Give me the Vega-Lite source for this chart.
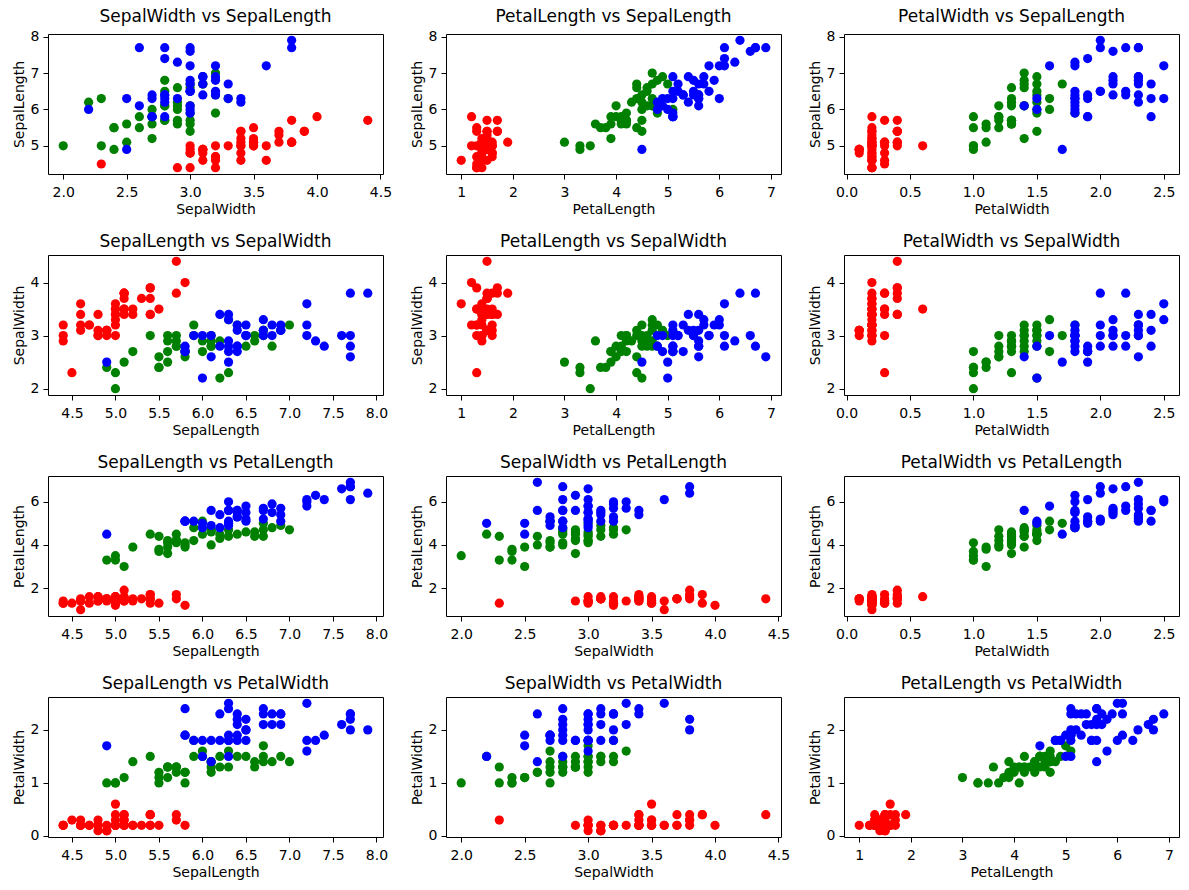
{
"$schema": "https://vega.github.io/schema/vega-lite/v6.json",
"background": "white",
"padding": {"left": 11, "top": 7, "right": 5, "bottom": 5},
"datasets": {"iris": [
{"SepalLength":5.1,"SepalWidth":3.5,"PetalLength":1.4,"PetalWidth":0.2,"Species":"setosa"},
{"SepalLength":4.9,"SepalWidth":3.0,"PetalLength":1.4,"PetalWidth":0.2,"Species":"setosa"},
{"SepalLength":4.7,"SepalWidth":3.2,"PetalLength":1.3,"PetalWidth":0.2,"Species":"setosa"},
{"SepalLength":4.6,"SepalWidth":3.1,"PetalLength":1.5,"PetalWidth":0.2,"Species":"setosa"},
{"SepalLength":5.0,"SepalWidth":3.6,"PetalLength":1.4,"PetalWidth":0.2,"Species":"setosa"},
{"SepalLength":5.4,"SepalWidth":3.9,"PetalLength":1.7,"PetalWidth":0.4,"Species":"setosa"},
{"SepalLength":4.6,"SepalWidth":3.4,"PetalLength":1.4,"PetalWidth":0.3,"Species":"setosa"},
{"SepalLength":5.0,"SepalWidth":3.4,"PetalLength":1.5,"PetalWidth":0.2,"Species":"setosa"},
{"SepalLength":4.4,"SepalWidth":2.9,"PetalLength":1.4,"PetalWidth":0.2,"Species":"setosa"},
{"SepalLength":4.9,"SepalWidth":3.1,"PetalLength":1.5,"PetalWidth":0.1,"Species":"setosa"},
{"SepalLength":5.4,"SepalWidth":3.7,"PetalLength":1.5,"PetalWidth":0.2,"Species":"setosa"},
{"SepalLength":4.8,"SepalWidth":3.4,"PetalLength":1.6,"PetalWidth":0.2,"Species":"setosa"},
{"SepalLength":4.8,"SepalWidth":3.0,"PetalLength":1.4,"PetalWidth":0.1,"Species":"setosa"},
{"SepalLength":5.8,"SepalWidth":4.0,"PetalLength":1.2,"PetalWidth":0.2,"Species":"setosa"},
{"SepalLength":5.7,"SepalWidth":4.4,"PetalLength":1.5,"PetalWidth":0.4,"Species":"setosa"},
{"SepalLength":5.4,"SepalWidth":3.9,"PetalLength":1.3,"PetalWidth":0.4,"Species":"setosa"},
{"SepalLength":5.1,"SepalWidth":3.5,"PetalLength":1.4,"PetalWidth":0.3,"Species":"setosa"},
{"SepalLength":5.7,"SepalWidth":3.8,"PetalLength":1.7,"PetalWidth":0.3,"Species":"setosa"},
{"SepalLength":5.1,"SepalWidth":3.8,"PetalLength":1.5,"PetalWidth":0.3,"Species":"setosa"},
{"SepalLength":5.4,"SepalWidth":3.4,"PetalLength":1.7,"PetalWidth":0.2,"Species":"setosa"},
{"SepalLength":5.1,"SepalWidth":3.7,"PetalLength":1.5,"PetalWidth":0.4,"Species":"setosa"},
{"SepalLength":4.6,"SepalWidth":3.6,"PetalLength":1.0,"PetalWidth":0.2,"Species":"setosa"},
{"SepalLength":5.0,"SepalWidth":3.0,"PetalLength":1.6,"PetalWidth":0.2,"Species":"setosa"},
{"SepalLength":5.0,"SepalWidth":3.4,"PetalLength":1.6,"PetalWidth":0.4,"Species":"setosa"},
{"SepalLength":5.2,"SepalWidth":3.5,"PetalLength":1.5,"PetalWidth":0.2,"Species":"setosa"},
{"SepalLength":5.2,"SepalWidth":3.4,"PetalLength":1.4,"PetalWidth":0.2,"Species":"setosa"},
{"SepalLength":4.7,"SepalWidth":3.2,"PetalLength":1.6,"PetalWidth":0.2,"Species":"setosa"},
{"SepalLength":4.8,"SepalWidth":3.1,"PetalLength":1.6,"PetalWidth":0.2,"Species":"setosa"},
{"SepalLength":5.4,"SepalWidth":3.4,"PetalLength":1.5,"PetalWidth":0.4,"Species":"setosa"},
{"SepalLength":4.9,"SepalWidth":3.1,"PetalLength":1.5,"PetalWidth":0.1,"Species":"setosa"},
{"SepalLength":5.0,"SepalWidth":3.2,"PetalLength":1.2,"PetalWidth":0.2,"Species":"setosa"},
{"SepalLength":5.5,"SepalWidth":3.5,"PetalLength":1.3,"PetalWidth":0.2,"Species":"setosa"},
{"SepalLength":4.9,"SepalWidth":3.1,"PetalLength":1.5,"PetalWidth":0.1,"Species":"setosa"},
{"SepalLength":4.4,"SepalWidth":3.0,"PetalLength":1.3,"PetalWidth":0.2,"Species":"setosa"},
{"SepalLength":5.1,"SepalWidth":3.4,"PetalLength":1.5,"PetalWidth":0.2,"Species":"setosa"},
{"SepalLength":5.0,"SepalWidth":3.5,"PetalLength":1.3,"PetalWidth":0.3,"Species":"setosa"},
{"SepalLength":4.5,"SepalWidth":2.3,"PetalLength":1.3,"PetalWidth":0.3,"Species":"setosa"},
{"SepalLength":4.4,"SepalWidth":3.2,"PetalLength":1.3,"PetalWidth":0.2,"Species":"setosa"},
{"SepalLength":5.0,"SepalWidth":3.5,"PetalLength":1.6,"PetalWidth":0.6,"Species":"setosa"},
{"SepalLength":5.1,"SepalWidth":3.8,"PetalLength":1.9,"PetalWidth":0.4,"Species":"setosa"},
{"SepalLength":4.8,"SepalWidth":3.0,"PetalLength":1.4,"PetalWidth":0.3,"Species":"setosa"},
{"SepalLength":5.1,"SepalWidth":3.8,"PetalLength":1.6,"PetalWidth":0.2,"Species":"setosa"},
{"SepalLength":4.6,"SepalWidth":3.2,"PetalLength":1.4,"PetalWidth":0.2,"Species":"setosa"},
{"SepalLength":5.3,"SepalWidth":3.7,"PetalLength":1.5,"PetalWidth":0.2,"Species":"setosa"},
{"SepalLength":5.0,"SepalWidth":3.3,"PetalLength":1.4,"PetalWidth":0.2,"Species":"setosa"},
{"SepalLength":7.0,"SepalWidth":3.2,"PetalLength":4.7,"PetalWidth":1.4,"Species":"versicolor"},
{"SepalLength":6.4,"SepalWidth":3.2,"PetalLength":4.5,"PetalWidth":1.5,"Species":"versicolor"},
{"SepalLength":6.9,"SepalWidth":3.1,"PetalLength":4.9,"PetalWidth":1.5,"Species":"versicolor"},
{"SepalLength":6.5,"SepalWidth":2.8,"PetalLength":4.6,"PetalWidth":1.5,"Species":"versicolor"},
{"SepalLength":5.7,"SepalWidth":2.8,"PetalLength":4.5,"PetalWidth":1.3,"Species":"versicolor"},
{"SepalLength":6.3,"SepalWidth":3.3,"PetalLength":4.7,"PetalWidth":1.6,"Species":"versicolor"},
{"SepalLength":4.9,"SepalWidth":2.4,"PetalLength":3.3,"PetalWidth":1.0,"Species":"versicolor"},
{"SepalLength":6.6,"SepalWidth":2.9,"PetalLength":4.6,"PetalWidth":1.3,"Species":"versicolor"},
{"SepalLength":5.2,"SepalWidth":2.7,"PetalLength":3.9,"PetalWidth":1.4,"Species":"versicolor"},
{"SepalLength":5.0,"SepalWidth":2.0,"PetalLength":3.5,"PetalWidth":1.0,"Species":"versicolor"},
{"SepalLength":5.9,"SepalWidth":3.0,"PetalLength":4.2,"PetalWidth":1.5,"Species":"versicolor"},
{"SepalLength":6.1,"SepalWidth":2.9,"PetalLength":4.7,"PetalWidth":1.4,"Species":"versicolor"},
{"SepalLength":5.6,"SepalWidth":2.9,"PetalLength":3.6,"PetalWidth":1.3,"Species":"versicolor"},
{"SepalLength":6.7,"SepalWidth":3.1,"PetalLength":4.4,"PetalWidth":1.4,"Species":"versicolor"},
{"SepalLength":5.8,"SepalWidth":2.7,"PetalLength":4.1,"PetalWidth":1.0,"Species":"versicolor"},
{"SepalLength":6.2,"SepalWidth":2.2,"PetalLength":4.5,"PetalWidth":1.5,"Species":"versicolor"},
{"SepalLength":5.6,"SepalWidth":2.5,"PetalLength":3.9,"PetalWidth":1.1,"Species":"versicolor"},
{"SepalLength":5.9,"SepalWidth":3.2,"PetalLength":4.8,"PetalWidth":1.8,"Species":"versicolor"},
{"SepalLength":6.1,"SepalWidth":2.8,"PetalLength":4.0,"PetalWidth":1.3,"Species":"versicolor"},
{"SepalLength":6.1,"SepalWidth":2.8,"PetalLength":4.7,"PetalWidth":1.2,"Species":"versicolor"},
{"SepalLength":6.6,"SepalWidth":3.0,"PetalLength":4.4,"PetalWidth":1.4,"Species":"versicolor"},
{"SepalLength":6.8,"SepalWidth":2.8,"PetalLength":4.8,"PetalWidth":1.4,"Species":"versicolor"},
{"SepalLength":6.7,"SepalWidth":3.0,"PetalLength":5.0,"PetalWidth":1.7,"Species":"versicolor"},
{"SepalLength":6.0,"SepalWidth":2.9,"PetalLength":4.5,"PetalWidth":1.5,"Species":"versicolor"},
{"SepalLength":5.5,"SepalWidth":2.4,"PetalLength":3.8,"PetalWidth":1.1,"Species":"versicolor"},
{"SepalLength":5.5,"SepalWidth":2.4,"PetalLength":3.7,"PetalWidth":1.0,"Species":"versicolor"},
{"SepalLength":5.8,"SepalWidth":2.7,"PetalLength":3.9,"PetalWidth":1.2,"Species":"versicolor"},
{"SepalLength":6.0,"SepalWidth":2.7,"PetalLength":5.1,"PetalWidth":1.6,"Species":"versicolor"},
{"SepalLength":5.4,"SepalWidth":3.0,"PetalLength":4.5,"PetalWidth":1.5,"Species":"versicolor"},
{"SepalLength":6.7,"SepalWidth":3.1,"PetalLength":4.7,"PetalWidth":1.5,"Species":"versicolor"},
{"SepalLength":6.3,"SepalWidth":2.3,"PetalLength":4.4,"PetalWidth":1.3,"Species":"versicolor"},
{"SepalLength":5.6,"SepalWidth":3.0,"PetalLength":4.1,"PetalWidth":1.3,"Species":"versicolor"},
{"SepalLength":5.5,"SepalWidth":2.6,"PetalLength":4.4,"PetalWidth":1.2,"Species":"versicolor"},
{"SepalLength":6.1,"SepalWidth":3.0,"PetalLength":4.6,"PetalWidth":1.4,"Species":"versicolor"},
{"SepalLength":5.8,"SepalWidth":2.6,"PetalLength":4.0,"PetalWidth":1.2,"Species":"versicolor"},
{"SepalLength":5.0,"SepalWidth":2.3,"PetalLength":3.3,"PetalWidth":1.0,"Species":"versicolor"},
{"SepalLength":5.6,"SepalWidth":2.7,"PetalLength":4.2,"PetalWidth":1.3,"Species":"versicolor"},
{"SepalLength":5.7,"SepalWidth":3.0,"PetalLength":4.2,"PetalWidth":1.2,"Species":"versicolor"},
{"SepalLength":5.7,"SepalWidth":2.9,"PetalLength":4.2,"PetalWidth":1.3,"Species":"versicolor"},
{"SepalLength":6.2,"SepalWidth":2.9,"PetalLength":4.3,"PetalWidth":1.3,"Species":"versicolor"},
{"SepalLength":5.1,"SepalWidth":2.5,"PetalLength":3.0,"PetalWidth":1.1,"Species":"versicolor"},
{"SepalLength":5.7,"SepalWidth":2.8,"PetalLength":4.1,"PetalWidth":1.3,"Species":"versicolor"},
{"SepalLength":6.3,"SepalWidth":3.3,"PetalLength":6.0,"PetalWidth":2.5,"Species":"virginica"},
{"SepalLength":5.8,"SepalWidth":2.7,"PetalLength":5.1,"PetalWidth":1.9,"Species":"virginica"},
{"SepalLength":6.3,"SepalWidth":2.9,"PetalLength":5.6,"PetalWidth":1.8,"Species":"virginica"},
{"SepalLength":6.5,"SepalWidth":3.0,"PetalLength":5.8,"PetalWidth":2.2,"Species":"virginica"},
{"SepalLength":7.6,"SepalWidth":3.0,"PetalLength":6.6,"PetalWidth":2.1,"Species":"virginica"},
{"SepalLength":4.9,"SepalWidth":2.5,"PetalLength":4.5,"PetalWidth":1.7,"Species":"virginica"},
{"SepalLength":7.3,"SepalWidth":2.9,"PetalLength":6.3,"PetalWidth":1.8,"Species":"virginica"},
{"SepalLength":7.2,"SepalWidth":3.6,"PetalLength":6.1,"PetalWidth":2.5,"Species":"virginica"},
{"SepalLength":6.5,"SepalWidth":3.2,"PetalLength":5.1,"PetalWidth":2.0,"Species":"virginica"},
{"SepalLength":6.4,"SepalWidth":2.7,"PetalLength":5.3,"PetalWidth":1.9,"Species":"virginica"},
{"SepalLength":6.8,"SepalWidth":3.0,"PetalLength":5.5,"PetalWidth":2.1,"Species":"virginica"},
{"SepalLength":5.8,"SepalWidth":2.8,"PetalLength":5.1,"PetalWidth":2.4,"Species":"virginica"},
{"SepalLength":6.4,"SepalWidth":3.2,"PetalLength":5.3,"PetalWidth":2.3,"Species":"virginica"},
{"SepalLength":6.5,"SepalWidth":3.0,"PetalLength":5.5,"PetalWidth":1.8,"Species":"virginica"},
{"SepalLength":7.7,"SepalWidth":3.8,"PetalLength":6.7,"PetalWidth":2.2,"Species":"virginica"},
{"SepalLength":7.7,"SepalWidth":2.6,"PetalLength":6.9,"PetalWidth":2.3,"Species":"virginica"},
{"SepalLength":6.0,"SepalWidth":2.2,"PetalLength":5.0,"PetalWidth":1.5,"Species":"virginica"},
{"SepalLength":6.9,"SepalWidth":3.2,"PetalLength":5.7,"PetalWidth":2.3,"Species":"virginica"},
{"SepalLength":7.7,"SepalWidth":2.8,"PetalLength":6.7,"PetalWidth":2.0,"Species":"virginica"},
{"SepalLength":6.3,"SepalWidth":2.7,"PetalLength":4.9,"PetalWidth":1.8,"Species":"virginica"},
{"SepalLength":6.7,"SepalWidth":3.3,"PetalLength":5.7,"PetalWidth":2.1,"Species":"virginica"},
{"SepalLength":7.2,"SepalWidth":3.2,"PetalLength":6.0,"PetalWidth":1.8,"Species":"virginica"},
{"SepalLength":6.2,"SepalWidth":2.8,"PetalLength":4.8,"PetalWidth":1.8,"Species":"virginica"},
{"SepalLength":6.1,"SepalWidth":3.0,"PetalLength":4.9,"PetalWidth":1.8,"Species":"virginica"},
{"SepalLength":6.4,"SepalWidth":2.8,"PetalLength":5.6,"PetalWidth":2.1,"Species":"virginica"},
{"SepalLength":7.2,"SepalWidth":3.0,"PetalLength":5.8,"PetalWidth":1.6,"Species":"virginica"},
{"SepalLength":7.4,"SepalWidth":2.8,"PetalLength":6.1,"PetalWidth":1.9,"Species":"virginica"},
{"SepalLength":7.9,"SepalWidth":3.8,"PetalLength":6.4,"PetalWidth":2.0,"Species":"virginica"},
{"SepalLength":6.4,"SepalWidth":2.8,"PetalLength":5.6,"PetalWidth":2.2,"Species":"virginica"},
{"SepalLength":6.3,"SepalWidth":2.8,"PetalLength":5.1,"PetalWidth":1.5,"Species":"virginica"},
{"SepalLength":6.1,"SepalWidth":2.6,"PetalLength":5.6,"PetalWidth":1.4,"Species":"virginica"},
{"SepalLength":7.7,"SepalWidth":3.0,"PetalLength":6.1,"PetalWidth":2.3,"Species":"virginica"},
{"SepalLength":6.3,"SepalWidth":3.4,"PetalLength":5.6,"PetalWidth":2.4,"Species":"virginica"},
{"SepalLength":6.4,"SepalWidth":3.1,"PetalLength":5.5,"PetalWidth":1.8,"Species":"virginica"},
{"SepalLength":6.0,"SepalWidth":3.0,"PetalLength":4.8,"PetalWidth":1.8,"Species":"virginica"},
{"SepalLength":6.9,"SepalWidth":3.1,"PetalLength":5.4,"PetalWidth":2.1,"Species":"virginica"},
{"SepalLength":6.7,"SepalWidth":3.1,"PetalLength":5.6,"PetalWidth":2.4,"Species":"virginica"},
{"SepalLength":6.9,"SepalWidth":3.1,"PetalLength":5.1,"PetalWidth":2.3,"Species":"virginica"},
{"SepalLength":5.8,"SepalWidth":2.7,"PetalLength":5.1,"PetalWidth":1.9,"Species":"virginica"},
{"SepalLength":6.8,"SepalWidth":3.2,"PetalLength":5.9,"PetalWidth":2.3,"Species":"virginica"},
{"SepalLength":6.7,"SepalWidth":3.0,"PetalLength":5.2,"PetalWidth":2.3,"Species":"virginica"},
{"SepalLength":6.3,"SepalWidth":2.5,"PetalLength":5.0,"PetalWidth":1.9,"Species":"virginica"},
{"SepalLength":6.5,"SepalWidth":3.0,"PetalLength":5.2,"PetalWidth":2.0,"Species":"virginica"},
{"SepalLength":6.2,"SepalWidth":3.4,"PetalLength":5.4,"PetalWidth":2.3,"Species":"virginica"},
{"SepalLength":5.9,"SepalWidth":3.0,"PetalLength":5.1,"PetalWidth":1.8,"Species":"virginica"}
]},
"data": {"name": "iris"},
"columns": 3,
"spacing": {"row": 81, "column": 63},
"bounds": "flush",
"concat": [
{"title": "SepalWidth vs SepalLength", "width": 335, "height": 140, "mark": {"type": "circle", "size": 85, "opacity": 1},
 "encoding": {
  "x": {"field": "SepalWidth", "type": "quantitative", "scale": {"domain": [1.88, 4.52], "nice": false, "zero": false}, "axis": {"values": [2, 2.5, 3, 3.5, 4, 4.5], "format": ".1f", "title": "SepalWidth"}},
  "y": {"field": "SepalLength", "type": "quantitative", "scale": {"domain": [4.225, 8.075], "nice": false, "zero": false}, "axis": {"values": [5, 6, 7, 8], "format": "d", "title": "SepalLength"}},
  "color": {"field": "Species", "type": "nominal", "scale": {"domain": ["setosa", "versicolor", "virginica"], "range": ["#ff0000", "#008000", "#0000ff"]}, "legend": null}}},
{"title": "PetalLength vs SepalLength", "width": 335, "height": 140, "mark": {"type": "circle", "size": 85, "opacity": 1},
 "encoding": {
  "x": {"field": "PetalLength", "type": "quantitative", "scale": {"domain": [0.705, 7.195], "nice": false, "zero": false}, "axis": {"values": [1, 2, 3, 4, 5, 6, 7], "format": "d", "title": "PetalLength"}},
  "y": {"field": "SepalLength", "type": "quantitative", "scale": {"domain": [4.225, 8.075], "nice": false, "zero": false}, "axis": {"values": [5, 6, 7, 8], "format": "d", "title": "SepalLength"}},
  "color": {"field": "Species", "type": "nominal", "scale": {"domain": ["setosa", "versicolor", "virginica"], "range": ["#ff0000", "#008000", "#0000ff"]}, "legend": null}}},
{"title": "PetalWidth vs SepalLength", "width": 335, "height": 140, "mark": {"type": "circle", "size": 85, "opacity": 1},
 "encoding": {
  "x": {"field": "PetalWidth", "type": "quantitative", "scale": {"domain": [-0.02, 2.62], "nice": false, "zero": false}, "axis": {"values": [0, 0.5, 1, 1.5, 2, 2.5], "format": ".1f", "title": "PetalWidth"}},
  "y": {"field": "SepalLength", "type": "quantitative", "scale": {"domain": [4.225, 8.075], "nice": false, "zero": false}, "axis": {"values": [5, 6, 7, 8], "format": "d", "title": "SepalLength"}},
  "color": {"field": "Species", "type": "nominal", "scale": {"domain": ["setosa", "versicolor", "virginica"], "range": ["#ff0000", "#008000", "#0000ff"]}, "legend": null}}},
{"title": "SepalLength vs SepalWidth", "width": 335, "height": 140, "mark": {"type": "circle", "size": 85, "opacity": 1},
 "encoding": {
  "x": {"field": "SepalLength", "type": "quantitative", "scale": {"domain": [4.225, 8.075], "nice": false, "zero": false}, "axis": {"values": [4.5, 5, 5.5, 6, 6.5, 7, 7.5, 8], "format": ".1f", "title": "SepalLength"}},
  "y": {"field": "SepalWidth", "type": "quantitative", "scale": {"domain": [1.88, 4.52], "nice": false, "zero": false}, "axis": {"values": [2, 3, 4], "format": "d", "title": "SepalWidth"}},
  "color": {"field": "Species", "type": "nominal", "scale": {"domain": ["setosa", "versicolor", "virginica"], "range": ["#ff0000", "#008000", "#0000ff"]}, "legend": null}}},
{"title": "PetalLength vs SepalWidth", "width": 335, "height": 140, "mark": {"type": "circle", "size": 85, "opacity": 1},
 "encoding": {
  "x": {"field": "PetalLength", "type": "quantitative", "scale": {"domain": [0.705, 7.195], "nice": false, "zero": false}, "axis": {"values": [1, 2, 3, 4, 5, 6, 7], "format": "d", "title": "PetalLength"}},
  "y": {"field": "SepalWidth", "type": "quantitative", "scale": {"domain": [1.88, 4.52], "nice": false, "zero": false}, "axis": {"values": [2, 3, 4], "format": "d", "title": "SepalWidth"}},
  "color": {"field": "Species", "type": "nominal", "scale": {"domain": ["setosa", "versicolor", "virginica"], "range": ["#ff0000", "#008000", "#0000ff"]}, "legend": null}}},
{"title": "PetalWidth vs SepalWidth", "width": 335, "height": 140, "mark": {"type": "circle", "size": 85, "opacity": 1},
 "encoding": {
  "x": {"field": "PetalWidth", "type": "quantitative", "scale": {"domain": [-0.02, 2.62], "nice": false, "zero": false}, "axis": {"values": [0, 0.5, 1, 1.5, 2, 2.5], "format": ".1f", "title": "PetalWidth"}},
  "y": {"field": "SepalWidth", "type": "quantitative", "scale": {"domain": [1.88, 4.52], "nice": false, "zero": false}, "axis": {"values": [2, 3, 4], "format": "d", "title": "SepalWidth"}},
  "color": {"field": "Species", "type": "nominal", "scale": {"domain": ["setosa", "versicolor", "virginica"], "range": ["#ff0000", "#008000", "#0000ff"]}, "legend": null}}},
{"title": "SepalLength vs PetalLength", "width": 335, "height": 140, "mark": {"type": "circle", "size": 85, "opacity": 1},
 "encoding": {
  "x": {"field": "SepalLength", "type": "quantitative", "scale": {"domain": [4.225, 8.075], "nice": false, "zero": false}, "axis": {"values": [4.5, 5, 5.5, 6, 6.5, 7, 7.5, 8], "format": ".1f", "title": "SepalLength"}},
  "y": {"field": "PetalLength", "type": "quantitative", "scale": {"domain": [0.705, 7.195], "nice": false, "zero": false}, "axis": {"values": [2, 4, 6], "format": "d", "title": "PetalLength"}},
  "color": {"field": "Species", "type": "nominal", "scale": {"domain": ["setosa", "versicolor", "virginica"], "range": ["#ff0000", "#008000", "#0000ff"]}, "legend": null}}},
{"title": "SepalWidth vs PetalLength", "width": 335, "height": 140, "mark": {"type": "circle", "size": 85, "opacity": 1},
 "encoding": {
  "x": {"field": "SepalWidth", "type": "quantitative", "scale": {"domain": [1.88, 4.52], "nice": false, "zero": false}, "axis": {"values": [2, 2.5, 3, 3.5, 4, 4.5], "format": ".1f", "title": "SepalWidth"}},
  "y": {"field": "PetalLength", "type": "quantitative", "scale": {"domain": [0.705, 7.195], "nice": false, "zero": false}, "axis": {"values": [2, 4, 6], "format": "d", "title": "PetalLength"}},
  "color": {"field": "Species", "type": "nominal", "scale": {"domain": ["setosa", "versicolor", "virginica"], "range": ["#ff0000", "#008000", "#0000ff"]}, "legend": null}}},
{"title": "PetalWidth vs PetalLength", "width": 335, "height": 140, "mark": {"type": "circle", "size": 85, "opacity": 1},
 "encoding": {
  "x": {"field": "PetalWidth", "type": "quantitative", "scale": {"domain": [-0.02, 2.62], "nice": false, "zero": false}, "axis": {"values": [0, 0.5, 1, 1.5, 2, 2.5], "format": ".1f", "title": "PetalWidth"}},
  "y": {"field": "PetalLength", "type": "quantitative", "scale": {"domain": [0.705, 7.195], "nice": false, "zero": false}, "axis": {"values": [2, 4, 6], "format": "d", "title": "PetalLength"}},
  "color": {"field": "Species", "type": "nominal", "scale": {"domain": ["setosa", "versicolor", "virginica"], "range": ["#ff0000", "#008000", "#0000ff"]}, "legend": null}}},
{"title": "SepalLength vs PetalWidth", "width": 335, "height": 140, "mark": {"type": "circle", "size": 85, "opacity": 1},
 "encoding": {
  "x": {"field": "SepalLength", "type": "quantitative", "scale": {"domain": [4.225, 8.075], "nice": false, "zero": false}, "axis": {"values": [4.5, 5, 5.5, 6, 6.5, 7, 7.5, 8], "format": ".1f", "title": "SepalLength"}},
  "y": {"field": "PetalWidth", "type": "quantitative", "scale": {"domain": [-0.02, 2.62], "nice": false, "zero": false}, "axis": {"values": [0, 1, 2], "format": "d", "title": "PetalWidth"}},
  "color": {"field": "Species", "type": "nominal", "scale": {"domain": ["setosa", "versicolor", "virginica"], "range": ["#ff0000", "#008000", "#0000ff"]}, "legend": null}}},
{"title": "SepalWidth vs PetalWidth", "width": 335, "height": 140, "mark": {"type": "circle", "size": 85, "opacity": 1},
 "encoding": {
  "x": {"field": "SepalWidth", "type": "quantitative", "scale": {"domain": [1.88, 4.52], "nice": false, "zero": false}, "axis": {"values": [2, 2.5, 3, 3.5, 4, 4.5], "format": ".1f", "title": "SepalWidth"}},
  "y": {"field": "PetalWidth", "type": "quantitative", "scale": {"domain": [-0.02, 2.62], "nice": false, "zero": false}, "axis": {"values": [0, 1, 2], "format": "d", "title": "PetalWidth"}},
  "color": {"field": "Species", "type": "nominal", "scale": {"domain": ["setosa", "versicolor", "virginica"], "range": ["#ff0000", "#008000", "#0000ff"]}, "legend": null}}},
{"title": "PetalLength vs PetalWidth", "width": 335, "height": 140, "mark": {"type": "circle", "size": 85, "opacity": 1},
 "encoding": {
  "x": {"field": "PetalLength", "type": "quantitative", "scale": {"domain": [0.705, 7.195], "nice": false, "zero": false}, "axis": {"values": [1, 2, 3, 4, 5, 6, 7], "format": "d", "title": "PetalLength"}},
  "y": {"field": "PetalWidth", "type": "quantitative", "scale": {"domain": [-0.02, 2.62], "nice": false, "zero": false}, "axis": {"values": [0, 1, 2], "format": "d", "title": "PetalWidth"}},
  "color": {"field": "Species", "type": "nominal", "scale": {"domain": ["setosa", "versicolor", "virginica"], "range": ["#ff0000", "#008000", "#0000ff"]}, "legend": null}}}
],
"resolve": {"scale": {"x": "independent", "y": "independent"}},
"config": {
  "font": "DejaVu Sans",
  "view": {"stroke": "black", "strokeWidth": 1},
  "axis": {"grid": false, "domain": false, "tickColor": "black", "tickSize": 5, "tickWidth": 1, "labelColor": "black", "labelFont": "DejaVu Sans", "labelFontSize": 14, "labelPadding": 4, "labelFlush": false, "labelOverlap": false, "labelBound": false, "titleColor": "black", "titleFont": "DejaVu Sans", "titleFontSize": 14, "titleFontWeight": "normal", "titlePadding": 4},
  "axisX": {"labelPadding": 6, "titlePadding": 3},
  "title": {"font": "DejaVu Sans", "fontSize": 17, "fontWeight": "normal", "color": "black", "offset": 4, "anchor": "middle"}
}
}
